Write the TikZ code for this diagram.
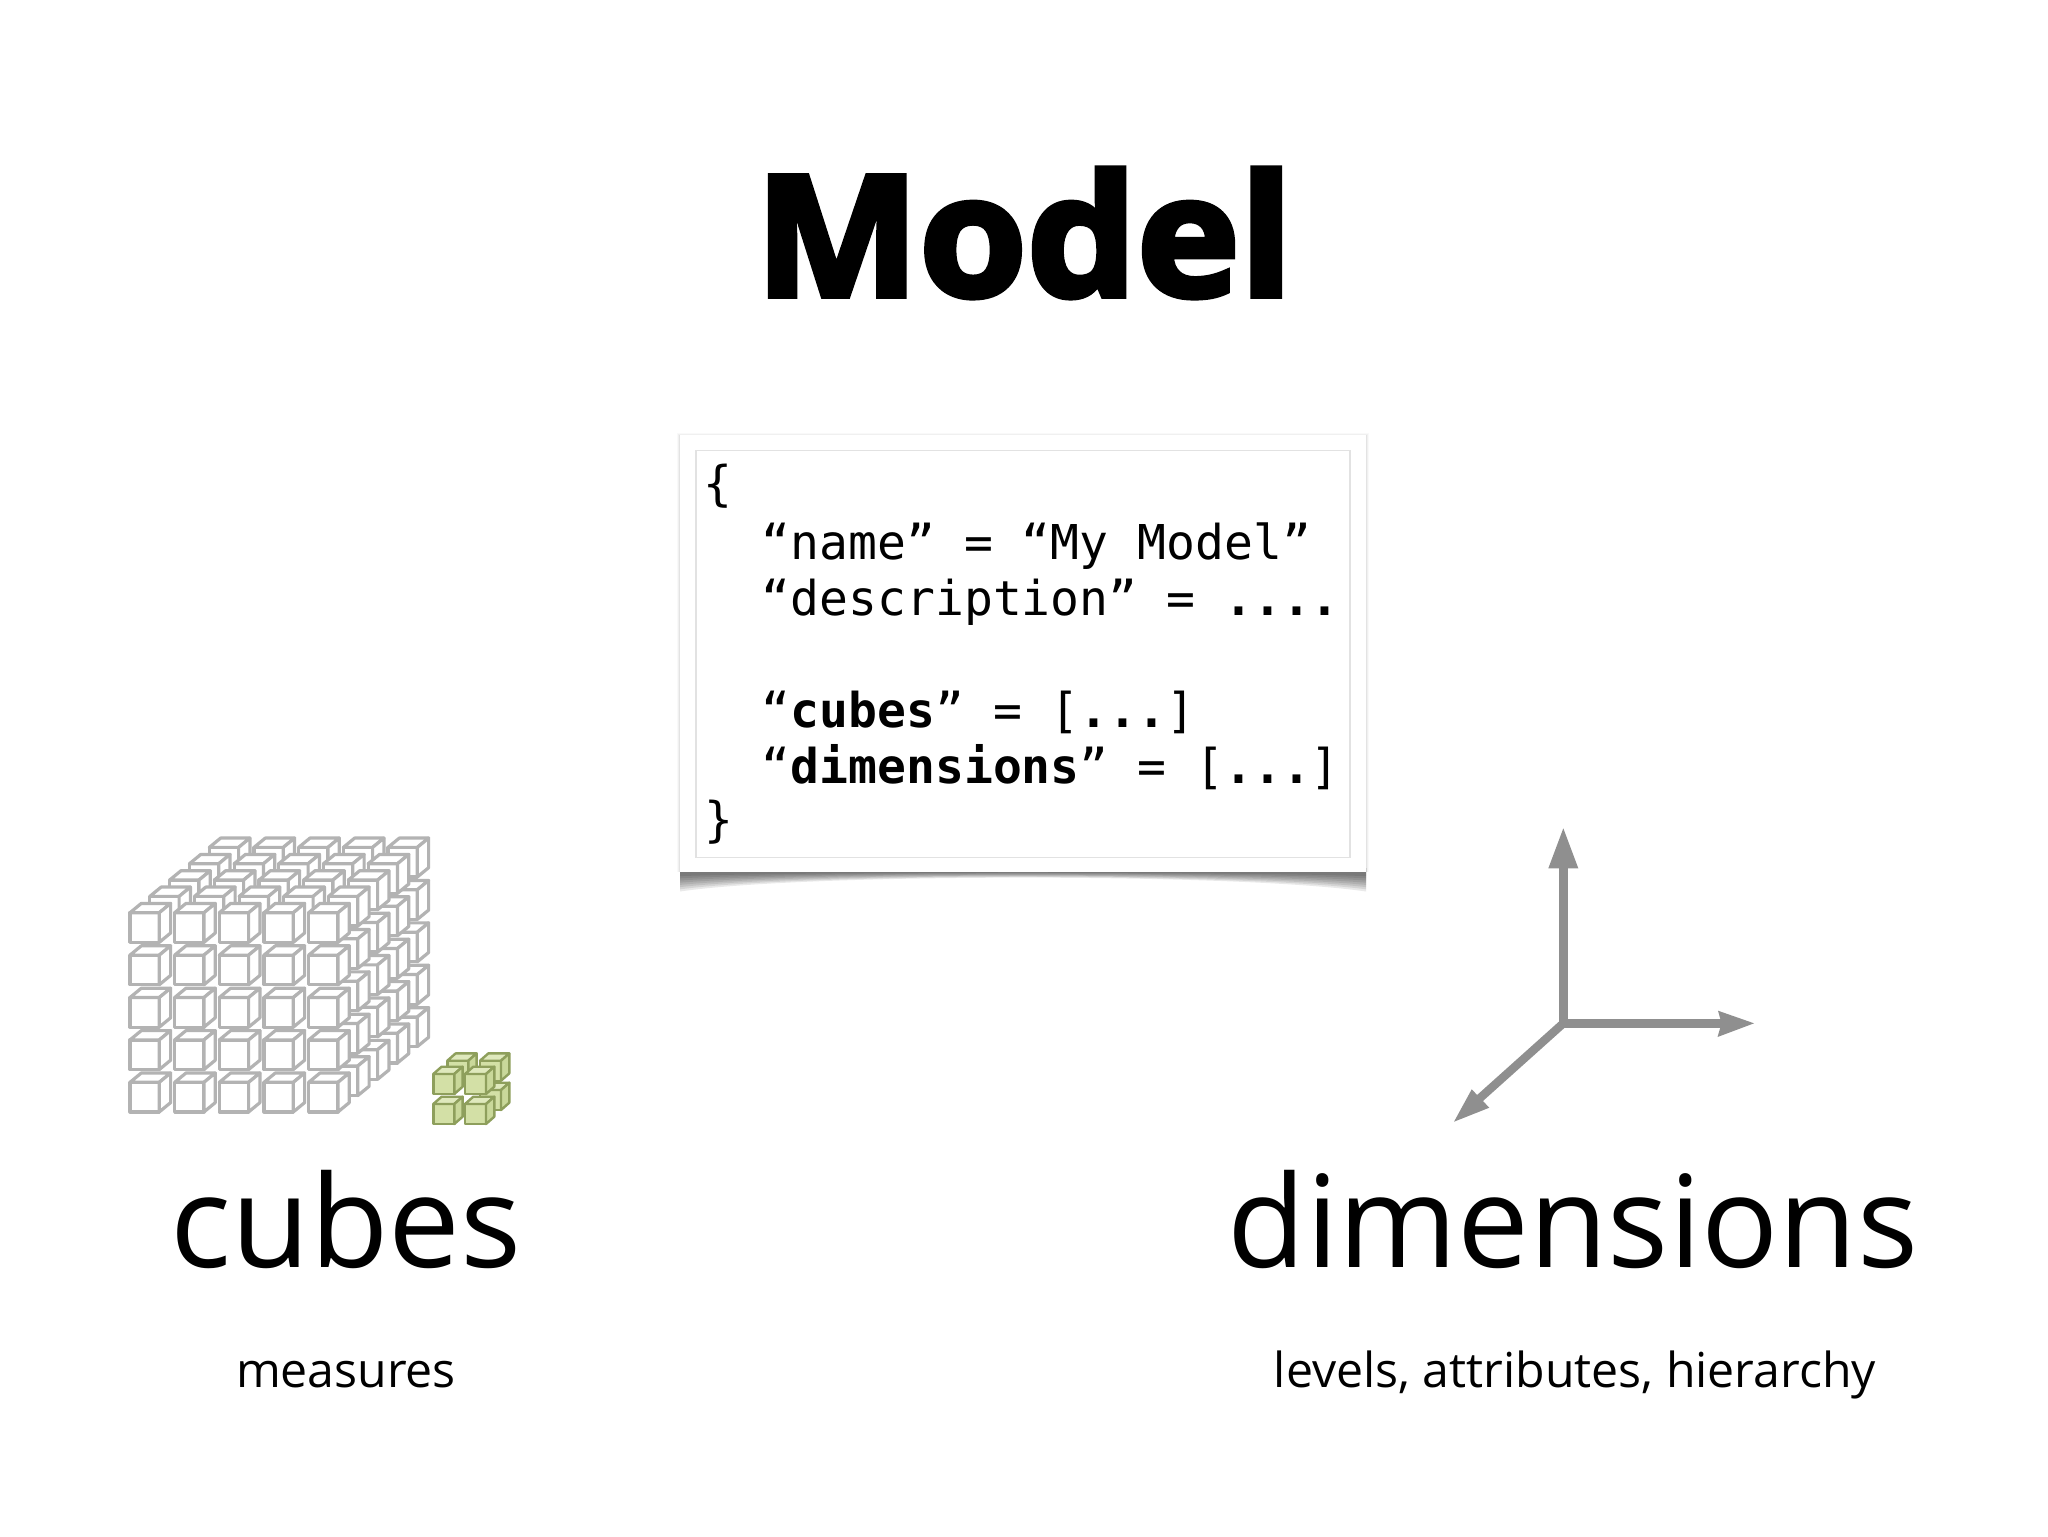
\documentclass[tikz,border=0pt]{standalone}
\usepackage{fontspec}
\setmainfont{Open Sans}
\setmonofont{DejaVu Sans Mono}
\newfontfamily\heavyfont{Open Sans}[BoldFeatures={FakeBold=3.5,FakeStretch=1.035}]
\definecolor{cubeline}{HTML}{B3B3B3}
\definecolor{greenline}{HTML}{8E9F5C}
\definecolor{greenfront}{HTML}{D3E0A6}
\definecolor{greentop}{HTML}{DFE9BD}
\definecolor{greenside}{HTML}{C9D89A}
\definecolor{axisgray}{HTML}{8F8F8F}
\definecolor{framegray}{HTML}{E2E2E2}
\tikzset{
  graycube/.style={draw=cubeline,fill=white,line width=1.6,line join=round},
  greencube/.style={draw=greenline,line width=1.2,line join=round},
  headline/.style={anchor=base,font=\fontsize{84}{84}\selectfont\heavyfont\bfseries},
  bigword/.style={anchor=base,font=\fontsize{64}{64}\selectfont},
  smallword/.style={anchor=base,font=\fontsize{24.1}{25}\selectfont},
  codeline/.style={anchor=base west,inner sep=0pt,font=\fontsize{24}{24}\selectfont\ttfamily},
  axisline/.style={draw=axisgray,line width=4.2},
  axishead/.style={fill=axisgray,draw=none}
}
% x, y of front-face top-left corner
\newcommand{\graycubeat}[2]{%
  \path[graycube] (#1,#2) rectangle ++(29.3,29.6);
  \path[graycube] (#1,#2) -- ++(11.3,-9.3) -- ++(29.3,0) -- ++(-11.3,9.3) -- cycle;
  \path[graycube] (#1+29.3,#2) -- ++(11.3,-9.3) -- ++(0,29.6) -- ++(-11.3,9.3) -- cycle;
}
\newcommand{\greencubeat}[2]{%
  \path[greencube,fill=greenfront] (#1,#2) rectangle ++(21,20);
  \path[greencube,fill=greentop] (#1,#2) -- ++(8.3,-7.3) -- ++(21,0) -- ++(-8.3,7.3) -- cycle;
  \path[greencube,fill=greenside] (#1+21,#2) -- ++(8.3,-7.3) -- ++(0,20) -- ++(-8.3,7.3) -- cycle;
}
\begin{document}
\begin{tikzpicture}[x=0.5pt,y=-0.5pt]
\useasboundingbox (0,0) rectangle (2048,1536);
\fill[white] (0,0) rectangle (2048,1536);

% Title
\node[headline] (title) at (1024,296) {Model};

% Code card shadow
\foreach \d in {0,1,...,7}{
  \pgfmathsetmacro{\bot}{891.5-2.2*\d}
  \pgfmathsetmacro{\mid}{873-0.2*\d}
  \fill[black,opacity=0.085] (680,868) -- (1366,868)
    -- (1366,\bot) .. controls (1240,\mid) and (806,\mid) .. (680,\bot) -- cycle;
}
% Code card
\foreach \d/\o in {3/0.025,2/0.035,1/0.05}{
  \fill[black,opacity=\o] (680-\d,436-\d) rectangle (1366+\d,872);
}
\fill[white] (680,435) rectangle (1366,872);
\node[draw=none,fill=white,minimum width=343pt,minimum height=218.5pt,inner sep=0pt] (card) at (1023,653.5) {};
\node[draw=framegray,line width=0.8,fill=white,minimum width=327pt,minimum height=203.5pt,inner sep=0pt] (inner) at (1023,654) {};

\node[codeline] (l0) at (703.5,500) {\{};
\node[codeline] (l1) at (761.5,559) {“name” = “My Model”};
\node[codeline] (l2) at (761.5,615) {“description” = \textbf{....}};
\node[codeline] (l3) at (761.5,727) {“\textbf{cubes}” = [\textbf{...}]};
\node[codeline] (l4) at (761.5,783) {“\textbf{dimensions}” = [\textbf{...}]};
\node[codeline] (l5) at (704,836) {\}};

% Gray cube block: back layer to front layer
\foreach \k in {4,3,2,1,0}{
  \pgfmathsetmacro{\lx}{130+19.83*\k}
  \pgfmathsetmacro{\ly}{912.7-16.33*\k}
  \fill[white] (\lx,\ly) rectangle (\lx+208.1,\ly+199);
  \foreach \c in {0,...,4}{
    \foreach \r in {0,...,4}{
      \pgfmathsetmacro{\cx}{\lx+44.67*\c}
      \pgfmathsetmacro{\cy}{\ly+42.4*\r}
      \graycubeat{\cx}{\cy}
    }
  }
}

% Green cubes
\greencubeat{447.3}{1060.7}
\greencubeat{480}{1060.7}
\greencubeat{480}{1090}
\greencubeat{433.3}{1074}
\greencubeat{465}{1074}
\greencubeat{433.3}{1104}
\greencubeat{465}{1104}

% Axes
\coordinate (origin) at (1563.3,1023.3);
\coordinate (upbase) at (1563.3,868.3);
\coordinate (uptip) at (1563.3,828.3);
\coordinate (rightbase) at (1722,1023.3);
\coordinate (righttip) at (1754,1023.3);
\coordinate (leftbase) at (1480,1098);
\coordinate (lefttip) at (1454,1121.7);
\draw[axisline] (origin) -- (upbase);
\draw[axisline] (origin) -- (rightbase);
\draw[axisline,line cap=round] (origin) -- (leftbase);
\fill[axishead] (uptip) -- (1548.3,868.3) -- (1578.3,868.3) -- cycle;
\fill[axishead] (righttip) -- (1718,1010.7) -- (1721.5,1023.3) -- (1717.5,1037) -- cycle;
\fill[axishead] (lefttip) -- (1471.7,1089.3) -- (1480,1098) -- (1489.3,1107.7) -- cycle;

% Labels
\node[bigword] (cubes) at (346,1267) {cubes};
\node[bigword] (dimensions) at (1573,1267) {dimensions};
\node[smallword] (measures) at (346,1387) {measures};
\node[smallword] (levels) at (1575,1387) {levels, attributes, hierarchy};
\end{tikzpicture}
\end{document}
